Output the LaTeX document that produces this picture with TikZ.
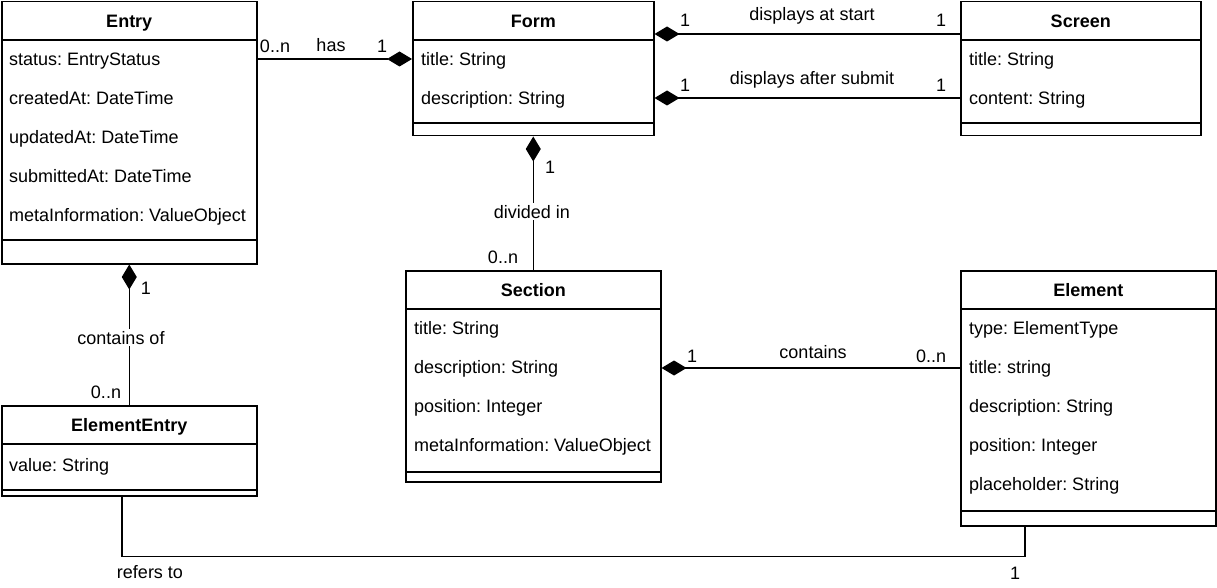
\documentclass[tikz,border=0pt]{standalone}
\usepackage{fontspec}
\setmainfont{Liberation Sans}
\frenchspacing
\usetikzlibrary{arrows.meta,positioning,calc}
\tikzset{
  classbox/.style={draw=black, line width=1.5pt, fill=white, anchor=north west, inner sep=0pt},
  classtitle/.style={font=\fontsize{18}{21}\selectfont\bfseries, anchor=base, inner sep=0pt},
  attrtext/.style={font=\fontsize{18}{21}\selectfont, anchor=base west, inner sep=0pt},
  linklabel/.style={font=\fontsize{18}{21}\selectfont, anchor=base, inner sep=0pt},
  onlinelabel/.style={linklabel, fill=white, inner sep=2pt},
  divider/.style={line width=1.5pt},
  assocline/.style={line width=1.5pt},
  compline/.style={line width=1.5pt, -{Diamond[length=25pt,width=15pt]}}
}
\begin{document}
\begin{tikzpicture}[x=1pt, y=-1pt]
    \useasboundingbox (0,0) rectangle (1217,588);
    % Entry
    \node[classbox, minimum width=255, minimum height=262] (entry) at (1,1) {};
    \node[classtitle] (entry-title) at ([yshift=-26.5]entry.north) {Entry};
    \draw[divider] ([yshift=-39]entry.north west) -- ([yshift=-39]entry.north east);
    \draw[divider] ([yshift=-239]entry.north west) -- ([yshift=-239]entry.north east);
    \foreach \t [count=\i] in {status: EntryStatus, createdAt: DateTime, updatedAt: DateTime, submittedAt: DateTime, metaInformation: ValueObject}
      \node[attrtext] (entry-\i) at ([xshift=8, yshift=-25.5-39*\i]entry.north west) {\t};
    % Form
    \node[classbox, minimum width=241, minimum height=134] (form) at (412,1) {};
    \node[classtitle] (form-title) at ([yshift=-26.5]form.north) {Form};
    \draw[divider] ([yshift=-39]form.north west) -- ([yshift=-39]form.north east);
    \draw[divider] ([yshift=-122]form.north west) -- ([yshift=-122]form.north east);
    \foreach \t [count=\i] in {title: String, description: String}
      \node[attrtext] (form-\i) at ([xshift=9, yshift=-25.5-39*\i]form.north west) {\t};
    % Screen
    \node[classbox, minimum width=240, minimum height=134] (screen) at (960,1) {};
    \node[classtitle] (screen-title) at ([yshift=-26.5]screen.north) {Screen};
    \draw[divider] ([yshift=-39]screen.north west) -- ([yshift=-39]screen.north east);
    \draw[divider] ([yshift=-122]screen.north west) -- ([yshift=-122]screen.north east);
    \foreach \t [count=\i] in {title: String, content: String}
      \node[attrtext] (screen-\i) at ([xshift=9, yshift=-25.5-39*\i]screen.north west) {\t};
    % Section
    \node[classbox, minimum width=255, minimum height=211] (section) at (405,270) {};
    \node[classtitle] (section-title) at ([yshift=-26.5]section.north) {Section};
    \draw[divider] ([yshift=-39]section.north west) -- ([yshift=-39]section.north east);
    \draw[divider] ([yshift=-202]section.north west) -- ([yshift=-202]section.north east);
    \foreach \t [count=\i] in {title: String, description: String, position: Integer, metaInformation: ValueObject}
      \node[attrtext] (section-\i) at ([xshift=9, yshift=-25.5-39*\i]section.north west) {\t};
    % Element
    \node[classbox, minimum width=255, minimum height=255] (element) at (960,270) {};
    \node[classtitle] (element-title) at ([yshift=-26.5]element.north) {Element};
    \draw[divider] ([yshift=-39]element.north west) -- ([yshift=-39]element.north east);
    \draw[divider] ([yshift=-241]element.north west) -- ([yshift=-241]element.north east);
    \foreach \t [count=\i] in {type: ElementType, title: string, description: String, position: Integer, placeholder: String}
      \node[attrtext] (element-\i) at ([xshift=9, yshift=-25.5-39*\i]element.north west) {\t};
    % ElementEntry
    \node[classbox, minimum width=255, minimum height=90] (elementry) at (1,405) {};
    \node[classtitle] (elementry-title) at ([yshift=-26.5]elementry.north) {ElementEntry};
    \draw[divider] ([yshift=-39]elementry.north west) -- ([yshift=-39]elementry.north east);
    \draw[divider] ([yshift=-85]elementry.north west) -- ([yshift=-85]elementry.north east);
    \node[attrtext] (elementry-1) at ([xshift=8, yshift=-66.5]elementry.north west) {value: String};
    % connectors
    \draw[compline] ([yshift=-58]entry.north east) -- ([yshift=-58]form.north west);
    \draw[compline] ([yshift=-33]screen.north west) -- ([yshift=-33]form.north east);
    \draw[compline] ([yshift=-97]screen.north west) -- ([yshift=-97]form.north east);
    \draw[compline] (section.north) -- (form.south);
    \draw[compline] ([yshift=-98]element.north west) -- ([yshift=-98]section.north east);
    \draw[compline] (elementry.north) -- (entry.south);
    \draw[assocline] ([xshift=-7.5]elementry.south) -- ++(0,60) -| ([xshift=-63.5]element.south);
    % labels
    \node[linklabel] (has-many) at (275,53) {0..n};
    \node[linklabel] (has-lbl) at (331,52) {has};
    \node[linklabel] (has-one) at (382,53) {1};
    \node[linklabel] (start-lbl) at (812,21) {displays at start};
    \node[linklabel] (start-one-a) at (685,27) {1};
    \node[linklabel] (start-one-b) at (941,27) {1};
    \node[linklabel] (submit-lbl) at (812,85) {displays after submit};
    \node[linklabel] (submit-one-a) at (685,92) {1};
    \node[linklabel] (submit-one-b) at (941,92) {1};
    \node[linklabel] (divided-one) at (550,174) {1};
    \node[onlinelabel] (divided-lbl) at (532,218) {divided in};
    \node[linklabel] (divided-many) at (503,263) {0..n};
    \node[linklabel] (contains-one) at (692,362) {1};
    \node[linklabel] (contains-lbl) at (813,358) {contains};
    \node[linklabel] (contains-many) at (931,362) {0..n};
    \node[linklabel] (containsof-one) at (146,294) {1};
    \node[onlinelabel] (containsof-lbl) at (121,344) {contains of};
    \node[linklabel] (containsof-many) at (106,398) {0..n};
    \node[linklabel] (refers-lbl) at (150,578) {refers to};
    \node[linklabel] (refers-one) at (1015,579) {1};
  \end{tikzpicture}
\end{document}
